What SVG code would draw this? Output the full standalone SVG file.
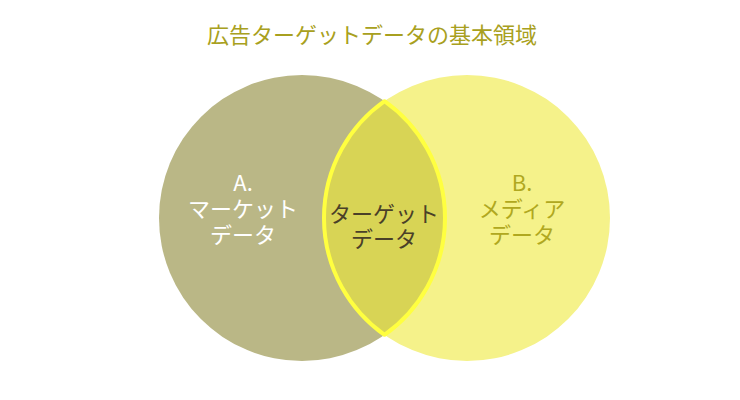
<svg xmlns="http://www.w3.org/2000/svg" width="740" height="400" viewBox="0 0 740 400">
<style>
text{font-family:"Noto Sans CJK JP","Noto Sans",sans-serif;text-anchor:middle;font-size:22px}
.t{fill:#a8a020;font-size:22px}
.a{fill:#ffffff}
.b{fill:#b0a820}
.c{fill:#4a4028}
</style>
<rect width="740" height="400" fill="#ffffff"/>
<text class="t" x="372" y="43">広告ターゲットデータの基本領域</text>
<g id="nodeA">
<circle cx="302" cy="218" r="143" fill="#bab786"/>
</g>
<g id="nodeB">
<circle cx="467" cy="218" r="143" fill="#f5f28a"/>
</g>
<g id="nodeAB">
<path d="M384.5,101.2 A143,143 0 0 1 384.5,334.8 A143,143 0 0 1 384.5,101.2 Z" fill="#d8d455" stroke="#ffff40" stroke-width="4" stroke-linejoin="round"/>
</g>
<g id="labels">
<text class="a" x="243" y="191">A.</text>
<text class="a" x="243" y="217">マーケット</text>
<text class="a" x="243" y="243">データ</text>
<text class="b" x="522" y="191">B.</text>
<text class="b" x="522" y="217">メディア</text>
<text class="b" x="522" y="243">データ</text>
<text class="c" x="384" y="222">ターゲット</text>
<text class="c" x="384" y="247">データ</text>
</g>
<g id="connectors"></g>
</svg>
